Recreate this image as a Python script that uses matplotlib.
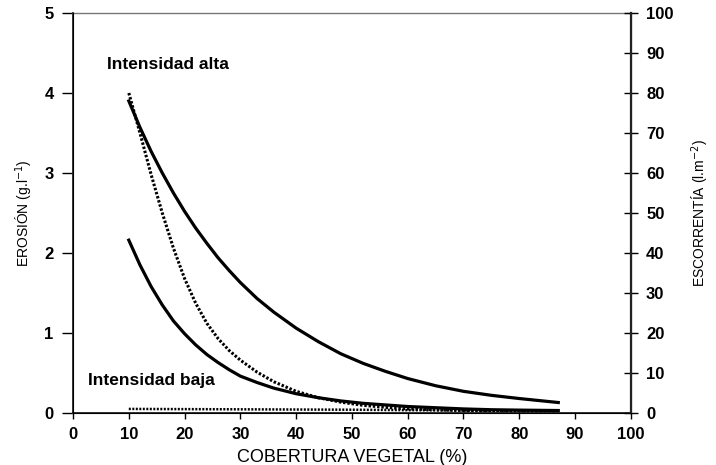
import matplotlib.pyplot as plt
import numpy as np

plt.rcParams['font.family'] = ['Liberation Sans', 'DejaVu Sans']

# cobertura vegetal (%) y erosión
x_alta = [10, 12, 14, 16, 18, 20, 22, 24, 26, 28, 30, 33, 36, 40, 44, 48, 52, 56, 60, 65, 70, 75, 80, 87]
alta_solida = [3.90, 3.57, 3.27, 3.00, 2.75, 2.52, 2.31, 2.12, 1.94, 1.78, 1.63, 1.43, 1.26, 1.06,
               0.89, 0.74, 0.62, 0.52, 0.43, 0.34, 0.27, 0.22, 0.18, 0.13]
x_punt = [10, 12, 14, 16, 18, 20, 22, 24, 26, 28, 30, 33, 36, 40, 44, 48, 52, 56, 60, 65, 70, 80, 87]
alta_punteada = [4.00, 3.50, 2.98, 2.50, 2.06, 1.68, 1.37, 1.12, 0.93, 0.78, 0.66, 0.51, 0.39, 0.27,
                 0.19, 0.135, 0.095, 0.07, 0.05, 0.04, 0.03, 0.02, 0.015]
x_baja = [10, 12, 14, 16, 18, 20, 22, 24, 26, 28, 30, 33, 36, 40, 44, 48, 52, 56, 60, 65, 70, 75, 80, 87]
baja_solida = [2.16, 1.85, 1.58, 1.35, 1.15, 0.99, 0.85, 0.73, 0.63, 0.54, 0.46, 0.38, 0.31, 0.24,
               0.19, 0.15, 0.12, 0.10, 0.08, 0.065, 0.05, 0.04, 0.035, 0.03]
x_baja_p = [10, 30, 50, 70, 87]
baja_punteada = [0.05, 0.045, 0.04, 0.03, 0.025]

fig = plt.figure(figsize=(7.16, 4.65), dpi=100)
ax = fig.add_axes([0.102, 0.112, 0.779, 0.860])

ax.plot(x_alta, alta_solida, color='black', lw=2.3)
ax.plot(x_punt, alta_punteada, color='black', lw=2.2, ls=(0, (0.8, 0.6)))
ax.plot(x_baja, baja_solida, color='black', lw=2.3)
ax.plot(x_baja_p, baja_punteada, color='black', lw=1.8, ls=(0, (0.8, 0.6)))

ax.text(17, 4.36, 'Intensidad alta', ha='center', va='center', fontsize=12.5, fontweight='bold')
ax.text(14, 0.40, 'Intensidad baja', ha='center', va='center', fontsize=12.5, fontweight='bold')

ax.set_xlim(0, 100)
ax.set_ylim(0, 5)
ax.set_xticks(np.arange(0, 101, 10))
ax.set_yticks(np.arange(0, 6, 1))
ax.tick_params(axis='y', direction='out', length=8, width=1, labelsize=12, pad=6)
ax.tick_params(axis='x', direction='out', length=4, width=1, labelsize=12, pad=6)
for lab in ax.get_xticklabels() + ax.get_yticklabels():
    lab.set_fontweight('bold')

ax.spines['top'].set_color('#777777')
ax.spines['top'].set_linewidth(1)
for s in ['left', 'bottom']:
    ax.spines[s].set_linewidth(1.3)
    ax.spines[s].set_color('#222222')

ax.set_xlabel('COBERTURA VEGETAL (%)', fontsize=13, labelpad=5)
ax.set_ylabel('EROSIÓN (g.l$^{-1}$)', fontsize=10, labelpad=7)

ax2 = ax.twinx()
ax2.set_ylim(0, 100)
ax2.set_yticks(np.arange(0, 101, 10))
ax2.tick_params(axis='y', direction='inout', length=10, width=1, labelsize=12, pad=6)
for lab in ax2.get_yticklabels():
    lab.set_fontweight('bold')
ax2.spines['right'].set_linewidth(1.6)
ax2.spines['right'].set_color('#222222')
ax2.spines['top'].set_visible(False)
ax2.set_ylabel('ESCORRENTÍA (l.m$^{-2}$)', fontsize=10, labelpad=12)

fig.savefig('out.png', dpi=100)
